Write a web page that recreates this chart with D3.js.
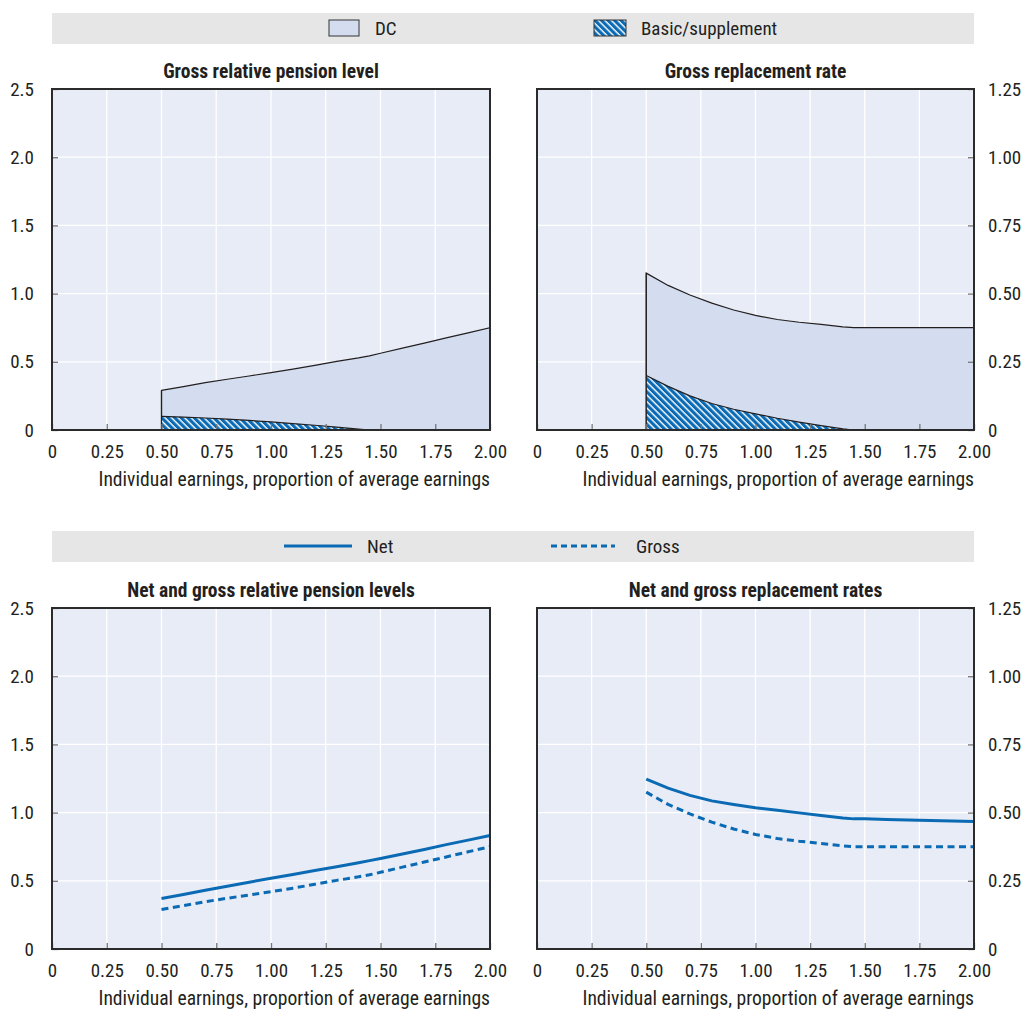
<!DOCTYPE html>
<html>
<head>
<meta charset="utf-8">
<script src="https://d3js.org/d3.v7.min.js"></script>
<style>
  body { margin: 0; background: #fff; }
  text { font-family: "Liberation Sans Narrow", "Arial Narrow", "Roboto Condensed", Roboto, sans-serif; fill: #231f20; }
</style>
</head>
<body>
<script>
// data
var earnings = [0.5, 0.6, 0.7, 0.8, 0.9, 1.0, 1.1, 1.2, 1.3, 1.4, 1.45, 1.5, 1.6, 1.7, 1.8, 1.9, 2.0];
var grossLevel = [0.29, 0.318, 0.347, 0.372, 0.396, 0.42, 0.446, 0.474, 0.503, 0.529, 0.544, 0.5625, 0.6, 0.6375, 0.675, 0.7125, 0.75];
var basicLevel = [0.10, 0.095, 0.088, 0.080, 0.070, 0.059, 0.047, 0.035, 0.021, 0.006, 0, 0, 0, 0, 0, 0, 0];
var grossRate = [0.575, 0.53, 0.495, 0.465, 0.44, 0.42, 0.405, 0.395, 0.387, 0.378, 0.375, 0.375, 0.375, 0.375, 0.375, 0.375, 0.375];
var basicRate = [0.20, 0.16, 0.125, 0.097, 0.076, 0.059, 0.043, 0.029, 0.016, 0.004, 0, 0, 0, 0, 0, 0, 0];
var netLevel = [0.37, 0.40, 0.43, 0.46, 0.49, 0.518, 0.546, 0.575, 0.603, 0.632, 0.648, 0.664, 0.697, 0.73, 0.765, 0.798, 0.832];
var netRate = [0.623, 0.59, 0.563, 0.543, 0.53, 0.518, 0.509, 0.499, 0.489, 0.48, 0.477, 0.477, 0.475, 0.473, 0.471, 0.469, 0.467];

var xTicks = [0, 0.25, 0.5, 0.75, 1.0, 1.25, 1.5, 1.75, 2.0];
var levelTicks = [0, 0.5, 1.0, 1.5, 2.0, 2.5];
var rateTicks = [0, 0.25, 0.5, 0.75, 1.0, 1.25];
var xTitle = "Individual earnings, proportion of average earnings";

var W = 1024, H = 1009;
var blue = "#0a6ab4";
var plotBg = "#e8ecf6";
var dcFill = "#d3ddef";
var fs = 19;

var svg = d3.select("body").append("svg").attr("width", W).attr("height", H);

var defs = svg.append("defs");
var pat = defs.append("pattern")
    .attr("id", "hatch")
    .attr("patternUnits", "userSpaceOnUse")
    .attr("width", 4.6).attr("height", 4.6)
    .attr("patternTransform", "rotate(45)");
pat.append("rect").attr("width", 4.6).attr("height", 4.6).attr("fill", blue);
pat.append("rect").attr("x", 0).attr("y", 0).attr("width", 4.6).attr("height", 1.4).attr("fill", "#fff");

function legendBar(y) {
    svg.append("rect").attr("x", 52).attr("y", y).attr("width", 922).attr("height", 31).attr("fill", "#e6e6e7");
}

// top legend
legendBar(13);
svg.append("rect").attr("x", 329).attr("y", 20).attr("width", 30).attr("height", 16)
    .attr("fill", dcFill).attr("stroke", "#333").attr("stroke-width", 1);
svg.append("text").attr("x", 375).attr("y", 35).attr("font-size", fs).text("DC");
svg.append("rect").attr("x", 594).attr("y", 20).attr("width", 32).attr("height", 16)
    .attr("fill", "url(#hatch)").attr("stroke", "#333").attr("stroke-width", 1);
svg.append("text").attr("x", 641).attr("y", 35).attr("font-size", fs).text("Basic/supplement");

// bottom legend
legendBar(531);
svg.append("line").attr("x1", 284).attr("x2", 352).attr("y1", 546).attr("y2", 546)
    .attr("stroke", blue).attr("stroke-width", 3);
svg.append("text").attr("x", 367).attr("y", 553).attr("font-size", fs).text("Net");
svg.append("line").attr("x1", 551).attr("x2", 615).attr("y1", 546).attr("y2", 546)
    .attr("stroke", blue).attr("stroke-width", 3).attr("stroke-dasharray", "6,4");
svg.append("text").attr("x", 636).attr("y", 553).attr("font-size", fs).text("Gross");

function panel(opt) {
    var pw = opt.right - opt.left, ph = opt.bottom - opt.top;
    var g = svg.append("g").attr("transform", "translate(" + opt.left + "," + opt.top + ")");
    var x = d3.scaleLinear().domain([0, 2]).range([0, pw]);
    var y = d3.scaleLinear().domain([0, opt.ymax]).range([ph, 0]);

    g.append("rect").attr("width", pw).attr("height", ph).attr("fill", plotBg);

    // grid
    g.selectAll(".vg").data(xTicks.slice(1, -1)).enter().append("line")
        .attr("x1", function (d) { return x(d); }).attr("x2", function (d) { return x(d); })
        .attr("y1", 0).attr("y2", ph).attr("stroke", "#fff").attr("stroke-width", 1.3);
    g.selectAll(".hg").data(opt.yTicks.slice(1, -1)).enter().append("line")
        .attr("y1", function (d) { return y(d); }).attr("y2", function (d) { return y(d); })
        .attr("x1", 0).attr("x2", pw).attr("stroke", "#fff").attr("stroke-width", 1.3);

    if (opt.total) {
        var pts = earnings.map(function (e, i) { return { e: e, t: opt.total[i], b: opt.basic[i] }; });
        g.append("path").datum(pts)
            .attr("d", d3.area().x(function (d) { return x(d.e); }).y0(y(0)).y1(function (d) { return y(d.t); }))
            .attr("fill", dcFill).attr("stroke", "#231f20").attr("stroke-width", 1.2);
        var bpts = pts.filter(function (d, i) { return i <= 10; });
        g.append("path").datum(bpts)
            .attr("d", d3.area().x(function (d) { return x(d.e); }).y0(y(0)).y1(function (d) { return y(d.b); }))
            .attr("fill", "url(#hatch)");
        g.append("path").datum(bpts)
            .attr("d", d3.line().x(function (d) { return x(d.e); }).y(function (d) { return y(d.b); }))
            .attr("fill", "none").attr("stroke", "#231f20").attr("stroke-width", 1.2);
        g.append("line").attr("x1", x(0.5)).attr("x2", x(0.5)).attr("y1", y(0)).attr("y2", y(opt.total[0]))
            .attr("stroke", "#231f20").attr("stroke-width", 1.2);
    }

    // ticks
    var xa = g.append("g").attr("transform", "translate(0," + ph + ")")
        .call(d3.axisBottom(x).tickValues(xTicks).tickSizeInner(-6).tickSizeOuter(0)
            .tickPadding(15).tickFormat(function (d) { return d === 0 ? "0" : d3.format(".2f")(d); }));
    xa.select(".domain").remove();
    xa.selectAll("line").attr("stroke", "#777").attr("stroke-width", 1.3);
    xa.selectAll("text").attr("font-size", fs).attr("font-family", null).attr("fill", "#231f20");

    var ya;
    if (opt.side === "left") {
        ya = g.append("g").call(d3.axisLeft(y).tickValues(opt.yTicks).tickSizeInner(-6).tickSizeOuter(0)
            .tickPadding(18).tickFormat(function (d) { return d === 0 ? "0" : d3.format(".1f")(d); }));
    } else {
        ya = g.append("g").attr("transform", "translate(" + pw + ",0)")
            .call(d3.axisRight(y).tickValues(opt.yTicks).tickSizeInner(-6).tickSizeOuter(0)
                .tickPadding(14).tickFormat(function (d) { return d === 0 ? "0" : d3.format(".2f")(d); }));
    }
    ya.select(".domain").remove();
    ya.selectAll("line").attr("stroke", "#777").attr("stroke-width", 1.3);
    ya.selectAll("text").attr("font-size", fs).attr("font-family", null).attr("fill", "#231f20");

    if (opt.lines) {
        opt.lines.forEach(function (s) {
            g.append("path").datum(s.values)
                .attr("d", d3.line().x(function (d, i) { return x(earnings[i]); }).y(function (d) { return y(d); }))
                .attr("fill", "none").attr("stroke", blue).attr("stroke-width", 3)
                .attr("stroke-dasharray", s.dash ? "7,4.5" : null);
        });
    }

    // frame
    g.append("rect").attr("width", pw).attr("height", ph).attr("fill", "none")
        .attr("stroke", "#2b2b2b").attr("stroke-width", 2);

    g.append("text").attr("x", pw / 2).attr("y", -11).attr("text-anchor", "middle")
        .attr("font-size", 19.5).attr("font-weight", "bold").text(opt.title);
    g.append("text").attr("x", pw).attr("y", ph + 56).attr("text-anchor", "end")
        .attr("font-size", 19.6).text(xTitle);
}

panel({ left: 52, right: 490, top: 89, bottom: 430, ymax: 2.5, yTicks: levelTicks, side: "left",
    title: "Gross relative pension level", total: grossLevel, basic: basicLevel });
panel({ left: 537, right: 974, top: 89, bottom: 430, ymax: 1.25, yTicks: rateTicks, side: "right",
    title: "Gross replacement rate", total: grossRate, basic: basicRate });
panel({ left: 52, right: 490, top: 608, bottom: 949, ymax: 2.5, yTicks: levelTicks, side: "left",
    title: "Net and gross relative pension levels",
    lines: [{ values: netLevel }, { values: grossLevel, dash: true }] });
panel({ left: 537, right: 974, top: 608, bottom: 949, ymax: 1.25, yTicks: rateTicks, side: "right",
    title: "Net and gross replacement rates",
    lines: [{ values: netRate }, { values: grossRate, dash: true }] });
</script>
</body>
</html>
